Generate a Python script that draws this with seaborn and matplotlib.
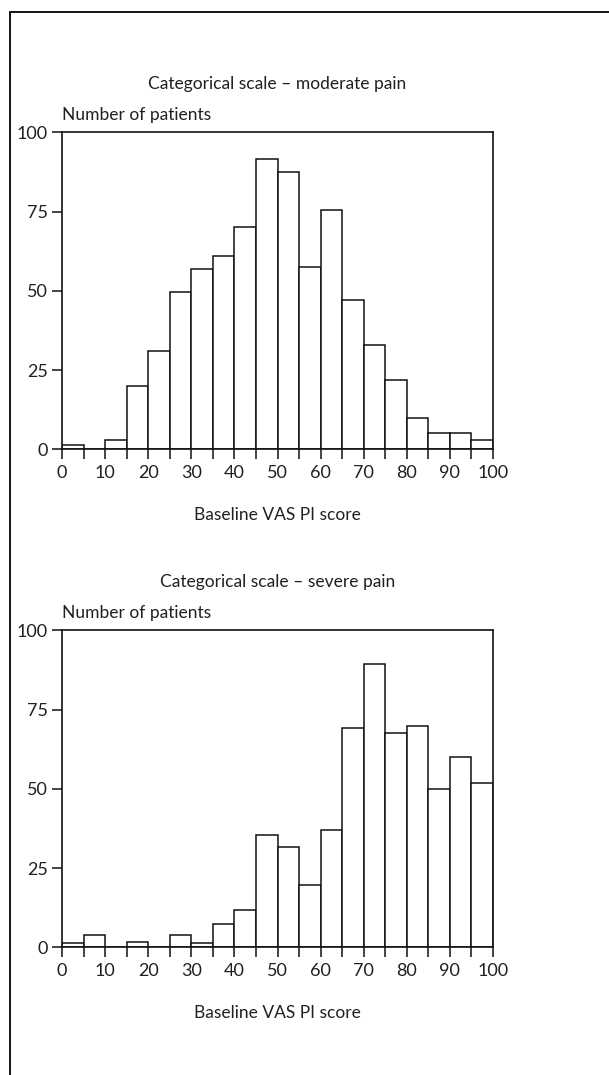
import numpy as np
import pandas as pd
import matplotlib
matplotlib.use("Agg")
import matplotlib.pyplot as plt
from matplotlib.lines import Line2D
import seaborn as sns

# ---- data ----
bin_edges = list(range(0, 105, 5))
bin_centers = [2.5, 7.5, 12.5, 17.5, 22.5, 27.5, 32.5, 37.5, 42.5, 47.5,
               52.5, 57.5, 62.5, 67.5, 72.5, 77.5, 82.5, 87.5, 92.5, 97.5]
moderate_counts = [1.5, 0, 3, 20, 31, 49.5, 57, 61, 70, 91.5,
                   87.5, 57.5, 75.5, 47, 33, 22, 10, 5, 5, 3]
severe_counts = [1.5, 4, 0, 1.8, 0, 4, 1.5, 7.5, 11.7, 35.5,
                 31.5, 19.5, 37, 69.3, 89.5, 67.7, 69.8, 50, 60, 51.7]
panel_titles = ["Categorical scale \u2013 moderate pain", "Categorical scale \u2013 severe pain"]
y_label = "Number of patients"
x_label = "Baseline VAS PI score"
y_ticks = [0, 25, 50, 75, 100]
x_ticks = [0, 10, 20, 30, 40, 50, 60, 70, 80, 90, 100]

sns.set_theme(style="ticks")
plt.rcParams['font.family'] = ['Lato', 'DejaVu Sans']
txt_color = "#231f20"
fs = 12.5
tfs = 13

fig = plt.figure(figsize=(6.09, 10.75), dpi=100)
W, H = 609, 1075

def add_axes_px(left, top, right, bottom):
    return fig.add_axes([left / W, 1 - bottom / H, (right - left) / W, (bottom - top) / H])

axes = [add_axes_px(62, 132.3, 493, 449.3), add_axes_px(62, 630.3, 493, 947.3)]
datasets = [moderate_counts, severe_counts]

for ax, counts, title in zip(axes, datasets, panel_titles):
    df = pd.DataFrame({"score": bin_centers, "n": counts})
    sns.histplot(data=df, x="score", weights="n", bins=bin_edges, ax=ax,
                 color="white", edgecolor="#111111", linewidth=1.1, alpha=1)
    ax.set_xlim(0, 100)
    ax.set_ylim(0, 100)
    ax.set_xticks(x_ticks)
    ax.set_xticks(bin_edges, minor=True)
    ax.set_yticks(y_ticks)
    ax.tick_params(axis="both", which="both", direction="out", length=7, width=1.1,
                   color="#111111", labelsize=tfs, labelcolor=txt_color)
    ax.tick_params(axis="x", which="both", pad=4)
    ax.tick_params(axis="y", which="both", pad=3)
    for sp in ax.spines.values():
        sp.set_linewidth(1.2)
        sp.set_color("#111111")
    ax.set_xlabel(x_label, fontsize=fs, color=txt_color, labelpad=19)
    ax.set_ylabel("")
    ax.set_title(title, fontsize=fs, color=txt_color, pad=31)
    ax.text(0, 1.03, y_label, transform=ax.transAxes, ha="left", va="bottom",
            fontsize=fs, color=txt_color)

# frame lines (left and top)
fig.add_artist(Line2D([10 / W, 10 / W], [0, 1 - 12 / H], transform=fig.transFigure,
                      color="#111111", linewidth=1.4))
fig.add_artist(Line2D([10 / W, 1], [1 - 12 / H, 1 - 12 / H], transform=fig.transFigure,
                      color="#111111", linewidth=1.4))

fig.savefig("out.png", dpi=100)
